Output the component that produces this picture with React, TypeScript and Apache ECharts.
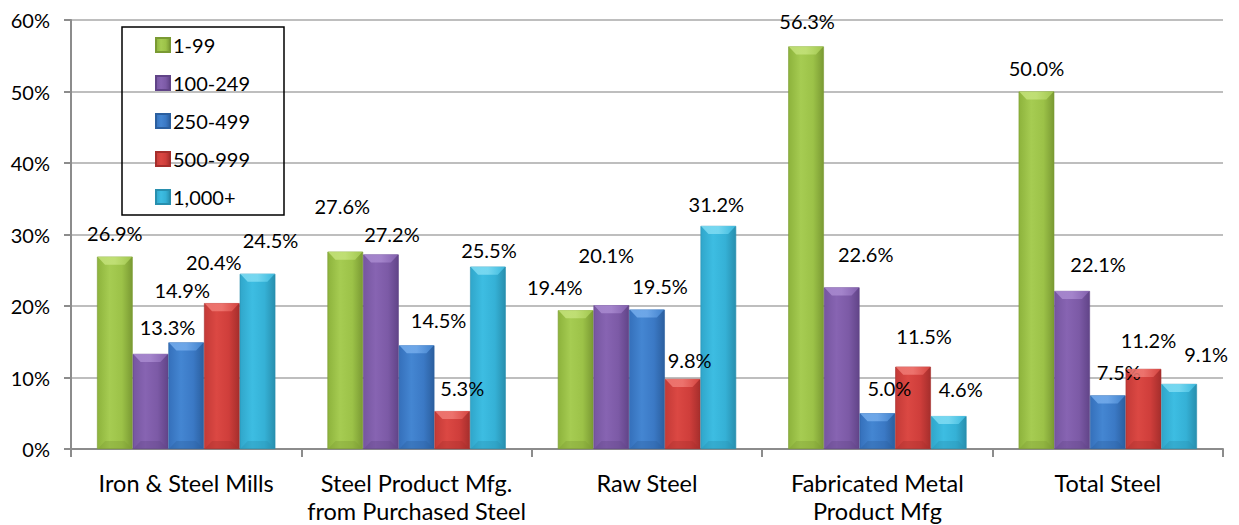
import React, { useEffect, useRef } from "react";
import * as echarts from "echarts";

const categories = [
  "Iron & Steel Mills",
  "Steel Product Mfg.\nfrom Purchased Steel",
  "Raw Steel",
  "Fabricated Metal\nProduct Mfg",
  "Total Steel",
];
const seriesNames = ["1-99", "100-249", "250-499", "500-999", "1,000+"];
const values1to99 = [26.9, 27.6, 19.4, 56.3, 50.0];
const values100to249 = [13.3, 27.2, 20.1, 22.6, 22.1];
const values250to499 = [14.9, 14.5, 19.5, 5.0, 7.5];
const values500to999 = [20.4, 5.3, 9.8, 11.5, 11.2];
const values1000plus = [24.5, 25.5, 31.2, 4.6, 9.1];
const seriesValues = [values1to99, values100to249, values250to499, values500to999, values1000plus];

// label offsets (dx, dy from bar top centre) per series, per category
const labelOffsets = [
  [[0, -24], [-3, -46], [-21, -23], [1, -25], [0, -24]],
  [[17, -27], [11, -21], [-5, -50], [24, -33], [26, -27]],
  [[-4, -52], [22, -25], [13, -24], [12, -25], [11, -23]],
  [[-8, -41], [10, -23], [7, -19], [11, -31], [5, -29]],
  [[13, -34], [1, -17], [-2, -22], [12, -27], [27, -30]],
];

const palettes = [
  ["#8db33c", "#a6cc52", "#9cc248", "#7a9a33", "#c4e27a"],
  ["#7656a0", "#8764b2", "#7c5aa6", "#614488", "#a98ad0"],
  ["#3570bb", "#4486d2", "#3b79c5", "#2b5f9f", "#74acec"],
  ["#c33a37", "#db4843", "#cf3e3b", "#a52e2c", "#f07a74"],
  ["#30a6ca", "#3dbde2", "#35b1d6", "#288fae", "#7fdcf3"],
];

const GAP = 0.226;
const FONT = "Lato";

export default function App() {
  const ref = useRef<HTMLDivElement>(null);
  useEffect(() => {
    if (!ref.current) return;
    const chart = echarts.init(ref.current, null, { renderer: "svg" });
    const series: any[] = seriesNames.map((name, si) => {
      const p = palettes[si];
      const color = new echarts.graphic.LinearGradient(0, 0, 1, 0, [
        { offset: 0, color: p[0] },
        { offset: 0.35, color: p[1] },
        { offset: 0.7, color: p[2] },
        { offset: 1, color: p[3] },
      ]);
      return {
        name,
        type: "bar",
        barGap: "0%",
        barCategoryGap: GAP * 100 + "%",
        itemStyle: { color, borderColor: p[3], borderWidth: 0.6 },
        data: seriesValues[si].map((v, ci) => ({
          value: v,
          label: {
            offset: [labelOffsets[si][ci][0], labelOffsets[si][ci][1] + 10],
          },
        })),
        label: {
          show: true,
          position: "top",
          distance: 0,
          fontFamily: FONT,
          fontSize: 20,
          color: "#000",
          formatter: (d: any) => d.value.toFixed(1) + "%",
        },
        z: 2,
      };
    });
    const bevelData: number[][] = [];
    seriesValues.forEach((vals, si) => vals.forEach((v, ci) => bevelData.push([ci, v, si])));
    series.push({
      type: "custom",
      name: "bevel",
      z: 3,
      silent: true,
      data: bevelData,
      encode: { x: 0, y: 1 },
      renderItem: (params: any, api: any) => {
        const ci = api.value(0);
        const v = api.value(1);
        const si = api.value(2);
        const xc = api.coord([ci, 0])[0];
        const y0 = api.coord([ci, 0])[1];
        const top = api.coord([ci, v])[1];
        const band = api.size([1, 0])[0];
        const bw = (band * (1 - GAP)) / 5;
        const left = xc - 2.5 * bw + si * bw;
        const right = left + bw;
        const p = palettes[si];
        const d = 8;
        return {
          type: "group",
          children: [
            {
              type: "polygon",
              shape: { points: [[left + 0.5, top], [right - 0.5, top], [right - d, top + d], [left + d, top + d]] },
              style: {
                fill: new echarts.graphic.LinearGradient(0, 0, 1, 0, [
                  { offset: 0, color: p[4] },
                  { offset: 0.5, color: p[4] },
                  { offset: 1, color: p[1] },
                ]),
                opacity: 0.85,
              },
            },
            {
              type: "polygon",
              shape: { points: [[left + 0.5, y0], [right - 0.5, y0], [right - d, y0 - d], [left + d, y0 - d]] },
              style: { fill: p[3], opacity: 0.35 },
            },
          ],
        };
      },
    });
    chart.setOption({
      animation: false,
      backgroundColor: "#fff",
      textStyle: { fontFamily: FONT },
      grid: { left: 71, right: 16, top: 20, bottom: 76, containLabel: false },
      legend: {
        orient: "vertical",
        left: 122 + 33,
        top: 27 + 8,
        itemWidth: 14,
        itemHeight: 14,
        itemGap: 18,
        padding: 0,
        icon: "rect",
        textStyle: { fontFamily: FONT, fontSize: 20, color: "#000", padding: [0, 0, 0, -2] },
        data: seriesNames,
      },
      graphic: [
        {
          type: "rect",
          shape: { x: 122, y: 27, width: 162, height: 188 },
          style: { fill: "none", stroke: "#000", lineWidth: 1.5 },
          z: 100,
        },
      ],
      xAxis: {
        type: "category",
        data: categories,
        axisLine: { lineStyle: { color: "#8c8c8c", width: 2 } },
        axisTick: { show: true, length: 8, lineStyle: { color: "#8c8c8c", width: 2 } },
        axisLabel: {
          fontFamily: FONT,
          fontSize: 23.5,
          color: "#000",
          lineHeight: 28,
          margin: 20,
          interval: 0,
        },
      },
      yAxis: {
        type: "value",
        min: 0,
        max: 60,
        interval: 10,
        axisLine: { show: true, lineStyle: { color: "#8c8c8c", width: 2 } },
        axisTick: { show: true, length: 7, lineStyle: { color: "#8c8c8c", width: 2 } },
        splitLine: { lineStyle: { color: "#a8a8a8", width: 1.5 } },
        axisLabel: {
          formatter: "{value}%",
          fontFamily: FONT,
          fontSize: 20,
          color: "#000",
          margin: 21,
        },
      },
      series,
    });
    return () => chart.dispose();
  }, []);
  return (
    <div
      ref={ref}
      style={{ position: "absolute", left: 0, top: 0, width: 1239, height: 525 }}
    />
  );
}
